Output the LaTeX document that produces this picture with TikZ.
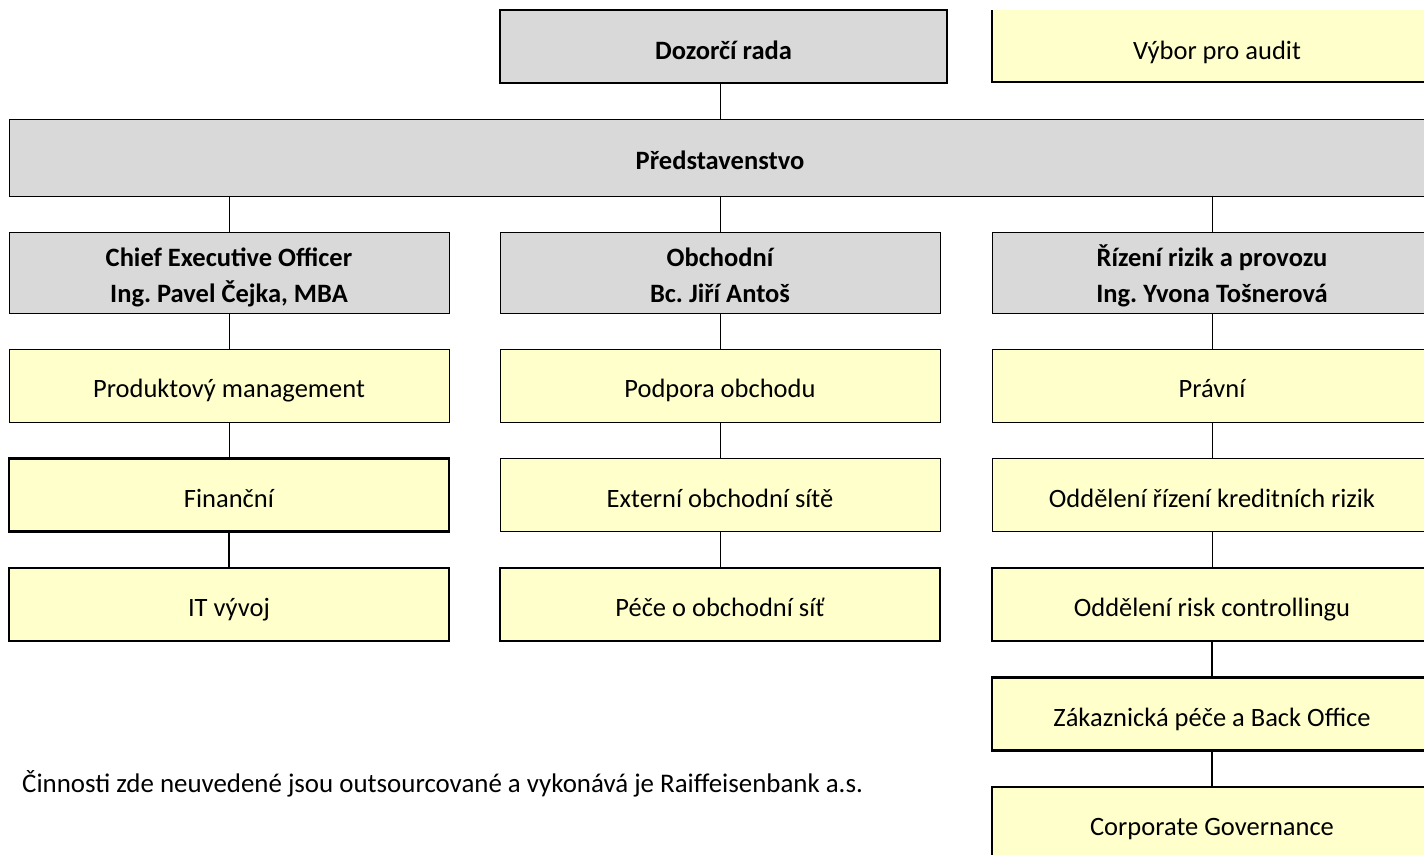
\documentclass[tikz,border=0pt]{standalone}
\usepackage{fontspec}
\setmainfont{Carlito}
\usepackage{xcolor}
\usetikzlibrary{positioning}
\definecolor{boxgray}{HTML}{D9D9D9}
\definecolor{boxyellow}{HTML}{FFFFCC}
\frenchspacing

\begin{document}
\begin{tikzpicture}[
  x=1pt, y=-1pt,
  font=\fontsize{26.5}{36}\selectfont,
  node distance=36.5pt,
  topbox/.style={draw, line width=1pt, fill=boxgray, align=center, font=\fontsize{26.5}{36}\selectfont\bfseries, text height=24pt, text depth=0pt, inner sep=0pt, outer sep=0pt},
  headbox/.style={topbox, minimum width=440pt, minimum height=81pt, text height=59pt},
  unitbox/.style={draw, line width=1pt, fill=boxyellow, align=center, minimum width=440pt, minimum height=73pt, text height=24pt, text depth=0pt, inner sep=0pt, outer sep=0pt},
  unitboxthick/.style={unitbox, line width=2.6pt},
  conn/.style={line width=1pt},
  connthick/.style={line width=2.4pt},
]
\useasboundingbox (0,0) rectangle (1424,854);
\clip (0,0) rectangle (1424,854);

% top level
\node[topbox, line width=2.6pt, minimum width=447pt, minimum height=73pt, text height=25pt] (dozor) at (723.5,46.5) {Dozorčí rada};
\node[fill=boxyellow, minimum width=450pt, minimum height=72pt, text height=26pt, text depth=0pt, inner sep=0pt, outer sep=0pt] (audit) at (1217,46) {Výbor pro audit};
\draw[line width=2pt] (audit.north west) -- (audit.south west) -- (audit.south east);
\node[topbox, minimum width=1422pt, minimum height=77pt] (pred) at (720,157.5) {Představenstvo};

% heads of the three columns
\node[headbox] (ceo) at (229,273) {Chief Executive Officer\\Ing. Pavel Čejka, MBA};
\node[headbox] (obch) at (720,273) {Obchodní\\Bc. Jiří Antoš};
\node[headbox] (riz) at (1212,273) {Řízení rizik a provozu\\Ing. Yvona Tošnerová};

% CEO column
\node[unitbox, below=35.5pt of ceo] (prod) {Produktový management};
\node[unitboxthick, below=of prod] (fin) {Finanční};
\node[unitboxthick, below=of fin] (itv) {IT vývoj};

% business column
\node[unitbox, below=35.5pt of obch] (podp) {Podpora obchodu};
\node[unitbox, below=of podp] (ext) {Externí obchodní sítě};
\node[unitboxthick, below=of ext] (pece) {Péče o obchodní síť};

% risk column
\node[unitbox, below=35.5pt of riz] (prav) {Právní};
\node[unitbox, below=of prav] (kred) {Oddělení řízení kreditních rizik};
\node[unitboxthick, below=of kred] (rc) {Oddělení risk controllingu};
\node[unitboxthick, below=of rc] (zak) {Zákaznická péče a Back Office};
\node[unitboxthick, below=of zak] (cg) {Corporate Governance};

\node[anchor=base west, inner sep=0pt, font=\fontsize{26.9}{33}\selectfont] (note) at (22,792) {Činnosti zde neuvedené jsou outsourcované a vykonává je Raiffeisenbank a.s.};

% connectors
\draw[conn] (pred.north) -- (pred.north |- dozor.south);
\draw[conn] (ceo.north) -- (ceo.north |- pred.south);
\draw[conn] (obch.north) -- (obch.north |- pred.south);
\draw[conn] (riz.north) -- (riz.north |- pred.south);
\draw[conn] (ceo) -- (prod);
\draw[conn] (prod) -- (fin);
\draw[connthick] (fin) -- (itv);
\draw[conn] (obch) -- (podp);
\draw[conn] (podp) -- (ext);
\draw[conn] (ext) -- (pece);
\draw[conn] (riz) -- (prav);
\draw[conn] (prav) -- (kred);
\draw[conn] (kred) -- (rc);
\draw[connthick] (rc) -- (zak);
\draw[connthick] (zak) -- (cg);
\end{tikzpicture}
\end{document}
